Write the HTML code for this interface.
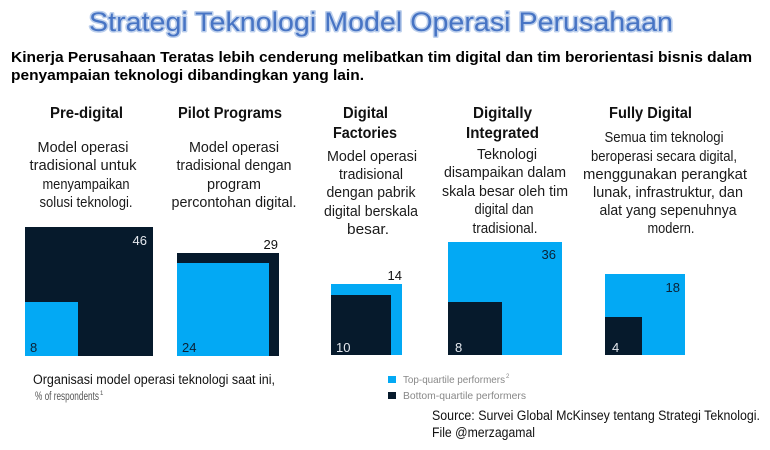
<!DOCTYPE html>
<html>
<head>
<meta charset="utf-8">
<style>
  html,body{margin:0;padding:0;background:#fff;}
  svg{display:block;}
  .h{font-family:"Liberation Sans",sans-serif;font-weight:bold;font-size:16px;fill:#111;}
  .d{font-family:"Liberation Sans",sans-serif;font-size:14.5px;fill:#1a1a1a;}
  .n{font-family:"Liberation Sans",sans-serif;font-size:13px;}
</style>
</head>
<body>
<svg width="770" height="450" viewBox="0 0 770 450" xmlns="http://www.w3.org/2000/svg">
  <rect width="770" height="450" fill="#fff"/>

  <!-- Title -->
  <text x="89" y="31" textLength="584" lengthAdjust="spacingAndGlyphs"
        font-family="Liberation Sans, sans-serif" font-size="27" fill="#4774c4"
        stroke="#bccfec" stroke-width="3" stroke-linejoin="round" paint-order="stroke">Strategi Teknologi Model Operasi Perusahaan</text>

  <!-- Subtitle -->
  <text x="11" y="62" textLength="741" lengthAdjust="spacingAndGlyphs"
        font-family="Liberation Sans, sans-serif" font-weight="bold" font-size="15" fill="#000">Kinerja Perusahaan Teratas lebih cenderung melibatkan tim digital dan tim berorientasi bisnis dalam</text>
  <text x="11" y="80" textLength="353" lengthAdjust="spacingAndGlyphs"
        font-family="Liberation Sans, sans-serif" font-weight="bold" font-size="15" fill="#000">penyampaian teknologi dibandingkan yang lain.</text>

  <!-- Headers -->
  <text class="h" x="50" y="118" textLength="73" lengthAdjust="spacingAndGlyphs">Pre-digital</text>
  <text class="h" x="178" y="118" textLength="104" lengthAdjust="spacingAndGlyphs">Pilot Programs</text>
  <text class="h" x="343" y="118" textLength="45" lengthAdjust="spacingAndGlyphs">Digital</text>
  <text class="h" x="333" y="138" textLength="64" lengthAdjust="spacingAndGlyphs">Factories</text>
  <text class="h" x="473" y="118" textLength="59" lengthAdjust="spacingAndGlyphs">Digitally</text>
  <text class="h" x="466" y="138" textLength="73" lengthAdjust="spacingAndGlyphs">Integrated</text>
  <text class="h" x="609" y="118" textLength="83" lengthAdjust="spacingAndGlyphs">Fully Digital</text>

  <!-- Descriptions -->
  <g class="d" text-anchor="middle">
    <text x="83" y="152" textLength="91" lengthAdjust="spacingAndGlyphs">Model operasi</text>
    <text x="83" y="170" textLength="107" lengthAdjust="spacingAndGlyphs">tradisional untuk</text>
    <text x="86" y="189" textLength="87" lengthAdjust="spacingAndGlyphs">menyampaikan</text>
    <text x="86" y="207" textLength="93" lengthAdjust="spacingAndGlyphs">solusi teknologi.</text>

    <text x="234" y="152" textLength="90" lengthAdjust="spacingAndGlyphs">Model operasi</text>
    <text x="234" y="170" textLength="115" lengthAdjust="spacingAndGlyphs">tradisional dengan</text>
    <text x="234" y="189" textLength="54" lengthAdjust="spacingAndGlyphs">program</text>
    <text x="234" y="207" textLength="125" lengthAdjust="spacingAndGlyphs">percontohan digital.</text>

    <text x="372" y="161" textLength="90" lengthAdjust="spacingAndGlyphs">Model operasi</text>
    <text x="371" y="179" textLength="64" lengthAdjust="spacingAndGlyphs">tradisional</text>
    <text x="371" y="197" textLength="89" lengthAdjust="spacingAndGlyphs">dengan pabrik</text>
    <text x="371" y="216" textLength="94" lengthAdjust="spacingAndGlyphs">digital berskala</text>
    <text x="368" y="234" textLength="42" lengthAdjust="spacingAndGlyphs">besar.</text>

    <text x="507" y="159" textLength="60" lengthAdjust="spacingAndGlyphs">Teknologi</text>
    <text x="505" y="177" textLength="122" lengthAdjust="spacingAndGlyphs">disampaikan dalam</text>
    <text x="505" y="196" textLength="126" lengthAdjust="spacingAndGlyphs">skala besar oleh tim</text>
    <text x="504" y="214" textLength="59" lengthAdjust="spacingAndGlyphs">digital dan</text>
    <text x="505" y="233" textLength="65" lengthAdjust="spacingAndGlyphs">tradisional.</text>

    <text x="664" y="142" textLength="119" lengthAdjust="spacingAndGlyphs">Semua tim teknologi</text>
    <text x="664" y="161" textLength="146" lengthAdjust="spacingAndGlyphs">beroperasi secara digital,</text>
    <text x="665" y="179" textLength="164" lengthAdjust="spacingAndGlyphs">menggunakan perangkat</text>
    <text x="668" y="197" textLength="150" lengthAdjust="spacingAndGlyphs">lunak, infrastruktur, dan</text>
    <text x="668" y="215" textLength="137" lengthAdjust="spacingAndGlyphs">alat yang sepenuhnya</text>
    <text x="671" y="233" textLength="47" lengthAdjust="spacingAndGlyphs">modern.</text>
  </g>

  <!-- Squares -->
  <rect x="25" y="227" width="128" height="129" fill="#061a2c"/>
  <rect x="25" y="302" width="53" height="54" fill="#03a9f4"/>

  <rect x="177" y="253" width="102" height="103" fill="#061a2c"/>
  <rect x="177" y="263" width="92" height="93" fill="#03a9f4"/>

  <rect x="331" y="284" width="71" height="71" fill="#03a9f4"/>
  <rect x="331" y="295" width="60" height="60" fill="#061a2c"/>

  <rect x="448" y="242" width="114" height="113" fill="#03a9f4"/>
  <rect x="448" y="302" width="54" height="53" fill="#061a2c"/>

  <rect x="605" y="274" width="80" height="81" fill="#03a9f4"/>
  <rect x="605" y="317" width="37" height="38" fill="#061a2c"/>

  <!-- Numbers -->
  <g class="n">
    <text x="147" y="245" text-anchor="end" fill="#e4e8ee">46</text>
    <text x="30" y="352" fill="#0b2236">8</text>
    <text x="278" y="249" text-anchor="end" fill="#111">29</text>
    <text x="182" y="352" fill="#0b2236">24</text>
    <text x="402" y="280" text-anchor="end" fill="#111">14</text>
    <text x="336" y="352" fill="#e4e8ee">10</text>
    <text x="556" y="259" text-anchor="end" fill="#0b2236">36</text>
    <text x="455" y="352" fill="#e4e8ee">8</text>
    <text x="680" y="292" text-anchor="end" fill="#0b2236">18</text>
    <text x="612" y="352" fill="#e4e8ee">4</text>
  </g>

  <!-- Footnote -->
  <text x="33" y="384" textLength="242" lengthAdjust="spacingAndGlyphs"
        font-family="Liberation Sans, sans-serif" font-size="13.5" fill="#111">Organisasi model operasi teknologi saat ini,</text>
  <text x="35" y="400" textLength="64" lengthAdjust="spacingAndGlyphs"
        font-family="Liberation Sans, sans-serif" font-size="11.5" fill="#555">% of respondents</text>
  <text x="100" y="395" font-family="Liberation Sans, sans-serif" font-size="6" fill="#555">1</text>

  <!-- Legend -->
  <rect x="388" y="376" width="8" height="7" fill="#03a9f4"/>
  <text x="403" y="383" textLength="102" lengthAdjust="spacingAndGlyphs"
        font-family="Liberation Sans, sans-serif" font-size="10.5" fill="#888">Top-quartile performers</text>
  <text x="506" y="378" font-family="Liberation Sans, sans-serif" font-size="6" fill="#888">2</text>
  <rect x="388" y="392" width="8" height="7" fill="#061a2c"/>
  <text x="403" y="399" textLength="123" lengthAdjust="spacingAndGlyphs"
        font-family="Liberation Sans, sans-serif" font-size="10.5" fill="#888">Bottom-quartile performers</text>

  <!-- Source -->
  <text x="432" y="420" textLength="328" lengthAdjust="spacingAndGlyphs"
        font-family="Liberation Sans, sans-serif" font-size="13.5" fill="#111">Source: Survei Global McKinsey tentang Strategi Teknologi.</text>
  <text x="432" y="437" textLength="103" lengthAdjust="spacingAndGlyphs"
        font-family="Liberation Sans, sans-serif" font-size="13.5" fill="#111">File @merzagamal</text>
</svg>
</body>
</html>
